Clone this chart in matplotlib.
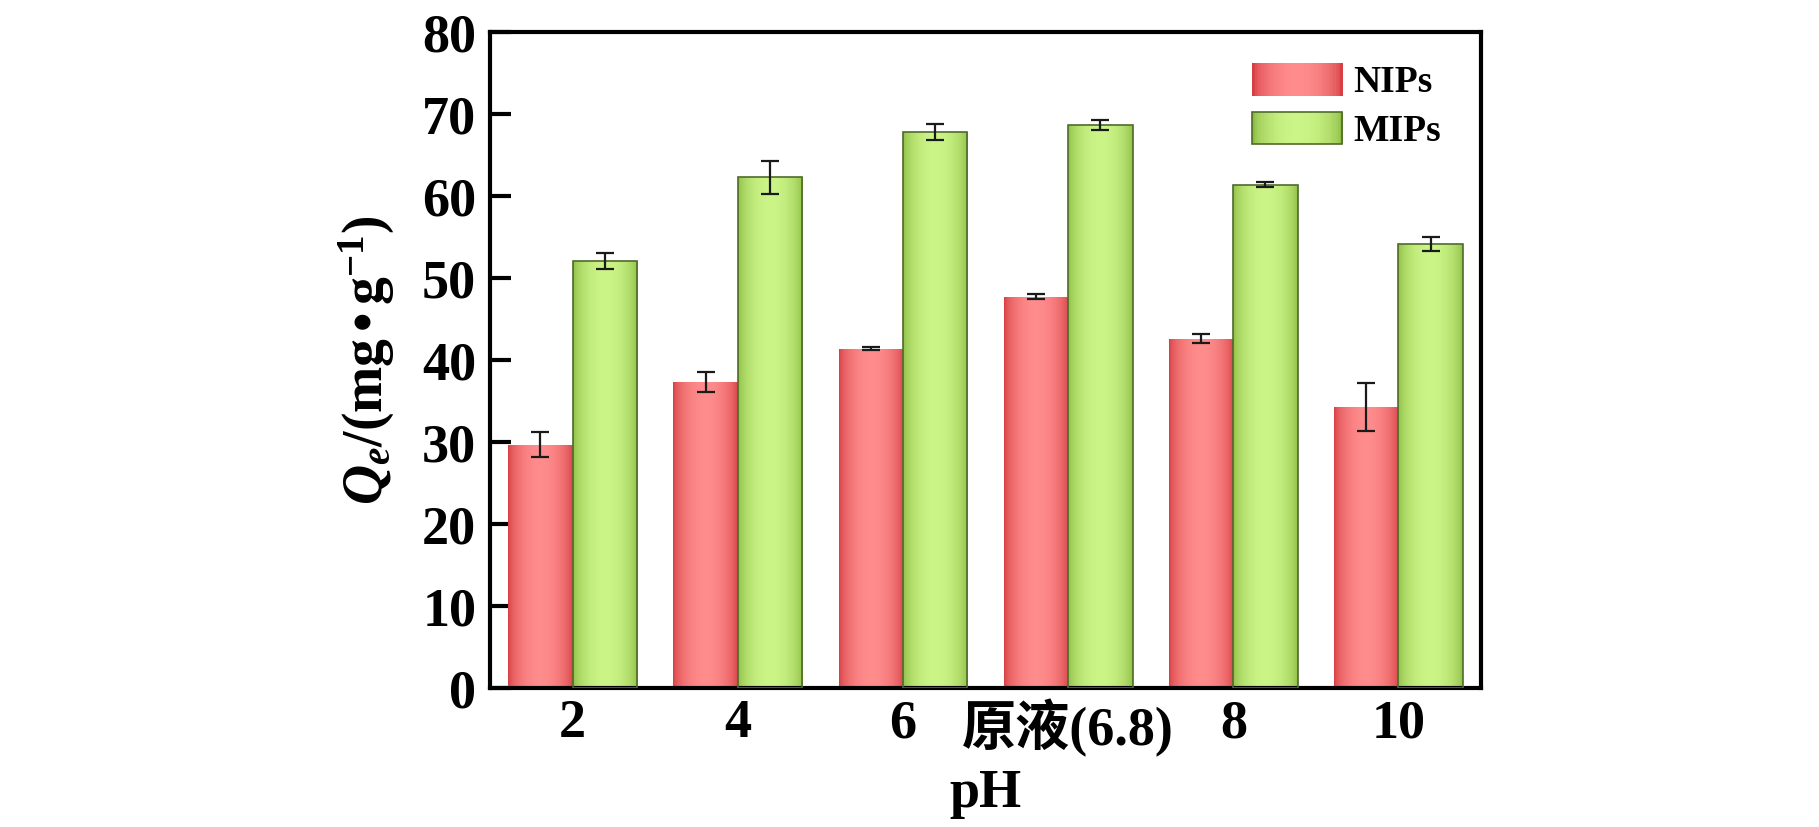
import numpy as np
import matplotlib
matplotlib.use("Agg")
import matplotlib.pyplot as plt
from matplotlib.patches import Rectangle
from matplotlib.legend_handler import HandlerBase

# data
ph_labels = ['2', '4', '6', '原液(6.8)', '8', '10']
nips = [29.7, 37.3, 41.4, 47.7, 42.6, 34.3]
nips_err = [1.5, 1.2, 0.2, 0.3, 0.55, 2.9]
mips = [52.1, 62.3, 67.8, 68.7, 61.4, 54.1]
mips_err = [1.0, 2.0, 0.95, 0.6, 0.3, 0.85]

plt.rcParams['font.family'] = ['Liberation Serif', 'Noto Sans CJK SC']
plt.rcParams['font.weight'] = 'bold'
plt.rcParams['mathtext.fontset'] = 'custom'
plt.rcParams['mathtext.it'] = 'Liberation Serif:italic:bold'
plt.rcParams['mathtext.rm'] = 'Liberation Serif:bold'
plt.rcParams['mathtext.bf'] = 'Liberation Serif:bold'

RED_DARK = np.array([0.84, 0.25, 0.27])
RED_LIGHT = np.array([1.00, 0.55, 0.55])
GREEN_DARK = np.array([0.55, 0.74, 0.27])
GREEN_LIGHT = np.array([0.80, 0.96, 0.53])
GREEN_EDGE = '#4f6b2a'


def gradient(dark, light, n=64):
    t = np.linspace(0, 1, n)
    prof = np.sin(np.pi * t) ** 0.6
    return dark + (light - dark) * prof[:, None]


def shade(ax, bars, dark, light):
    img = gradient(dark, light)[None, :, :]
    for b in bars:
        x0, y0 = b.get_x(), b.get_y()
        w, h = b.get_width(), b.get_height()
        im = ax.imshow(img, extent=[x0, x0 + w, y0, y0 + h], aspect='auto',
                       interpolation='bicubic', zorder=2)
        im.set_clip_path(b)


class GradHandler(HandlerBase):
    def __init__(self, dark, light, edge):
        super().__init__()
        self.cols = gradient(dark, light, 40)
        self.edge = edge

    def create_artists(self, legend, orig_handle, xdescent, ydescent,
                       width, height, fontsize, trans):
        n = len(self.cols)
        arts = []
        for i, c in enumerate(self.cols):
            arts.append(Rectangle((-xdescent + width * i / n, -ydescent),
                                  width / n * 1.1, height, facecolor=c,
                                  edgecolor='none', transform=trans))
        arts.append(Rectangle((-xdescent, -ydescent), width, height,
                              facecolor='none', edgecolor=self.edge,
                              linewidth=1.2, transform=trans))
        return arts


fig = plt.figure(figsize=(18.19, 8.27), dpi=100)
ax = fig.add_axes([0.2694, 0.168, 0.5448, 0.7933])

x = np.arange(len(ph_labels))
w = 0.39
b1 = ax.bar(x - w / 2, nips, w, facecolor='none', edgecolor='none', zorder=3)
b2 = ax.bar(x + w / 2, mips, w, facecolor='none', edgecolor=GREEN_EDGE,
            linewidth=1.2, zorder=3)
shade(ax, b1, RED_DARK, RED_LIGHT)
shade(ax, b2, GREEN_DARK, GREEN_LIGHT)

ax.errorbar(x - w / 2, nips, yerr=nips_err, fmt='none', ecolor='#1a1a1a',
            elinewidth=1.6, capsize=6.5, capthick=1.6, zorder=4)
ax.errorbar(x + w / 2, mips, yerr=mips_err, fmt='none', ecolor='#1a1a1a',
            elinewidth=1.6, capsize=6.5, capthick=1.6, zorder=4)

ax.set_xlim(-0.5, len(ph_labels) - 0.5)
ax.set_ylim(0, 80)
ax.set_yticks(np.arange(0, 81, 10))
ax.set_xticks(x)
ax.set_xticklabels(ph_labels)

for s in ax.spines.values():
    s.set_linewidth(3)
ax.tick_params(axis='y', direction='in', length=15, width=3, labelsize=39, pad=10)
ax.tick_params(axis='x', direction='in', length=12, width=3, labelsize=39, pad=8)

ax.set_xlabel('pH', fontsize=39, fontweight='bold', labelpad=8)
ax.set_ylabel(r'$Q_e$/(mg$\,$•$\,$g$^{-1}$)', fontsize=40, fontweight='bold',
              labelpad=18)

p1 = Rectangle((0, 0), 1, 1)
p2 = Rectangle((0, 0), 1, 1)
ax.legend([p1, p2], ['NIPs', 'MIPs'], loc='upper right',
          bbox_to_anchor=(0.975, 0.975), frameon=False,
          prop={'family': 'Liberation Serif', 'weight': 'bold', 'size': 27},
          handlelength=2.4, handleheight=0.95, handletextpad=0.3,
          labelspacing=0.3, borderaxespad=0,
          handler_map={p1: GradHandler(RED_DARK, RED_LIGHT, 'none'),
                       p2: GradHandler(GREEN_DARK, GREEN_LIGHT, GREEN_EDGE)})

fig.savefig('out.png', dpi=100)
